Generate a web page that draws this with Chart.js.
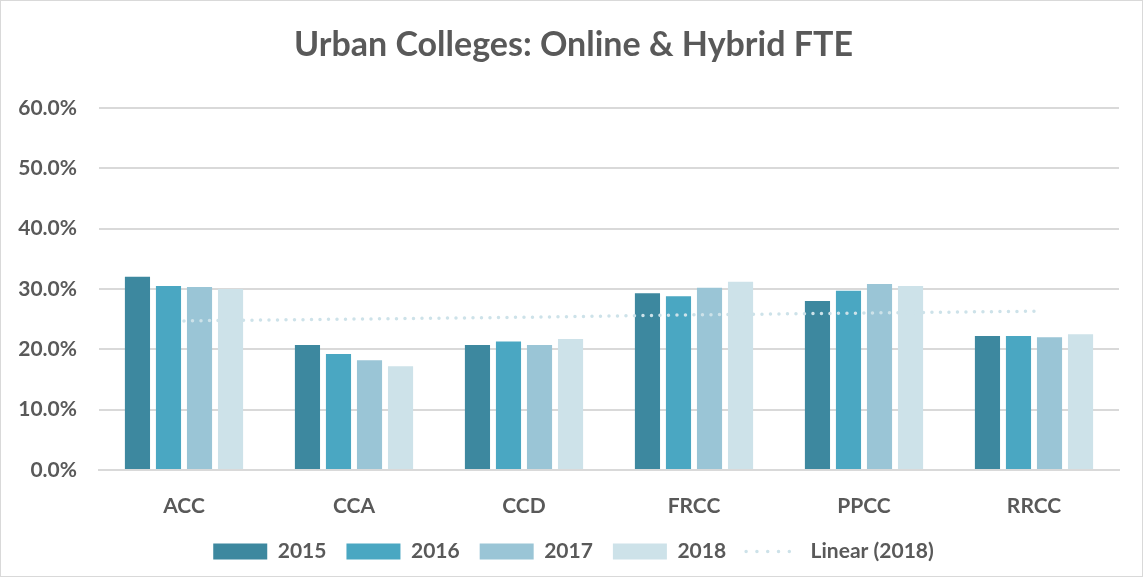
<!DOCTYPE html>
<html>
<head>
<meta charset="utf-8">
<script src="https://cdn.jsdelivr.net/npm/chart.js@4"></script>
<style>
  html, body { margin: 0; padding: 0; background: #fff; }
  #wrap { position: relative; width: 1143px; height: 577px; box-sizing: border-box; border: 1px solid #d9d9d9; }
</style>
</head>
<body>
<div id="wrap"><canvas id="chart"></canvas></div>
<script>
const colleges = ['ACC', 'CCA', 'CCD', 'FRCC', 'PPCC', 'RRCC'];
const fte2015 = [32.0, 20.7, 20.7, 29.3, 28.0, 22.2];
const fte2016 = [30.5, 19.2, 21.3, 28.8, 29.7, 22.2];
const fte2017 = [30.3, 18.2, 20.7, 30.2, 30.8, 22.0];
const fte2018 = [30.0, 17.2, 21.7, 31.2, 30.5, 22.5];
// linear trend of 2018 as drawn in the picture
const trend2018 = [24.7, 25.0, 25.3, 25.7, 26.0, 26.3];
const yTicks = [0, 10, 20, 30, 40, 50, 60];

const textColor = '#595959';
const gridColor = '#d9d9d9';
const fontFamily = 'Lato, "Open Sans", sans-serif';

function barSet(label, data, color) {
    return {
        type: 'bar',
        label: label,
        data: data,
        backgroundColor: color,
        categoryPercentage: 0.73,
        barPercentage: 0.81,
        pointStyle: 'rect',
        order: 2
    };
}

// default legend items, with the trend line drawn dotted
function legendItems(chart) {
    const items = Chart.defaults.plugins.legend.labels.generateLabels(chart);
    items.forEach(item => {
        if (chart.data.datasets[item.datasetIndex].type === 'line') {
            item.lineDash = [0, 10.8];
            item.lineCap = 'round';
            item.lineWidth = 3.5;
            item.strokeStyle = '#cde2e9';
        }
    });
    return items;
}

new Chart(document.getElementById('chart'), {
    type: 'bar',
    data: {
        labels: colleges,
        datasets: [
            barSet('2015', fte2015, '#3d889f'),
            barSet('2016', fte2016, '#4aa7c2'),
            barSet('2017', fte2017, '#9ac5d6'),
            barSet('2018', fte2018, '#cde2e9'),
            {
                type: 'line',
                label: 'Linear (2018)',
                data: trend2018,
                borderColor: '#cde2e9',
                backgroundColor: '#cde2e9',
                borderWidth: 3.5,
                borderDash: [0, 8.5],
                borderCapStyle: 'round',
                pointRadius: 0,
                pointStyle: 'line',
                fill: false,
                order: 1
            }
        ]
    },
    options: {
        responsive: true,
        maintainAspectRatio: false,
        animation: false,
        layout: { padding: { left: 10, right: 6, top: 8, bottom: 4 } },
        plugins: {
            title: {
                display: true,
                text: 'Urban Colleges: Online & Hybrid FTE',
                color: textColor,
                font: { family: fontFamily, size: 34, weight: 'bold' },
                padding: { top: 16, bottom: 42 }
            },
            legend: {
                position: 'bottom',
                labels: {
                    color: textColor,
                    font: { family: fontFamily, size: 21, weight: 'bold' },
                    usePointStyle: true,
                    pointStyleWidth: 54,
                    boxHeight: 16,
                    padding: 20,
                    generateLabels: legendItems,
                    sort: (a, b) => a.datasetIndex - b.datasetIndex
                }
            },
            tooltip: { enabled: false }
        },
        scales: {
            x: {
                grid: { display: false },
                border: { color: gridColor, width: 2 },
                afterFit: axis => { axis.height = 51; },
                ticks: {
                    color: textColor,
                    font: { family: fontFamily, size: 21, weight: 'bold' },
                    padding: 16
                }
            },
            y: {
                min: yTicks[0],
                max: yTicks[yTicks.length - 1],
                afterBuildTicks: axis => { axis.ticks = yTicks.map(v => ({ value: v })); },
                afterFit: axis => { axis.width = 88; },
                grid: { color: gridColor, lineWidth: 2, drawTicks: false },
                border: { display: false },
                ticks: {
                    color: textColor,
                    font: { family: fontFamily, size: 21, weight: 'bold' },
                    padding: 22,
                    callback: v => v.toFixed(1) + '%'
                }
            },
            // empty right margin so the plot ends where the reference does
            yRight: {
                position: 'right',
                min: 0,
                max: 60,
                grid: { display: false, drawTicks: false },
                border: { display: false },
                ticks: { display: false },
                afterFit: axis => { axis.width = 17; }
            }
        }
    }
});
</script>
</body>
</html>
